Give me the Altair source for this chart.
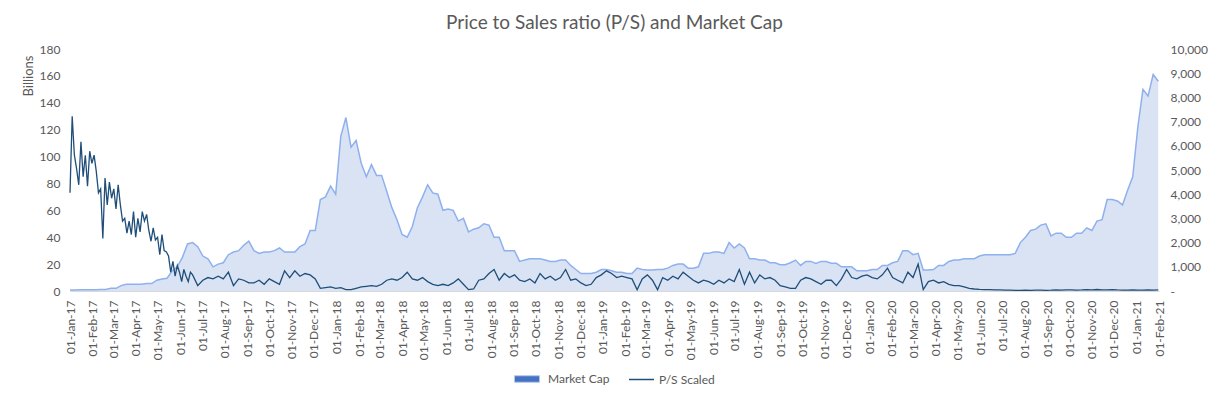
import altair as alt
import pandas as pd

TITLE = "Price to Sales ratio (P/S) and Market Cap"
series_names = ["Market Cap", "P/S Scaled"]
series_colors = ["#4472C4", "#1F4E79"]

# Market cap (billions), weekly from 2017-01-01
mcap_start = "2017-01-01"
mcap_billions = [
    0.8, 0.8, 0.9, 0.9, 1.0, 1.0, 1.1, 1.2, 2, 2,
    4, 5, 5, 5, 5, 5.5, 5.5, 8, 9, 9.5,
    15, 18, 25, 35, 36, 33, 26, 24, 18, 20,
    21, 27, 29, 30, 34, 37, 30, 28, 29, 29,
    30, 32, 29, 29, 29, 33, 35, 45, 45, 68,
    70, 78, 72, 115, 129, 107, 112, 95, 85, 94,
    86, 86, 74, 62, 53, 42, 40, 48, 62, 70,
    79, 73, 72, 60, 61, 60, 52, 54, 44, 46,
    47, 50, 49, 40, 40, 30, 30, 30, 22, 23,
    24, 24, 24, 23, 22, 22, 23, 23, 19, 16,
    13, 13, 13, 14, 16, 16, 15, 14, 14, 13,
    13, 17, 16, 15.6, 15.6, 16, 16, 17, 19, 20,
    20, 17, 17, 18, 28, 28, 29, 29, 28, 36,
    32, 35, 32, 24, 24, 23, 23, 21, 21, 19.5,
    19.5, 21, 23, 19, 22, 22, 20.5, 22, 22, 20.6,
    20.6, 18, 18, 18, 15, 15, 15, 16, 16, 19,
    19, 21, 22, 30, 30, 27, 28, 15.6, 15.6, 16,
    19, 19, 22, 23, 23, 24, 24, 24, 26, 27,
    27, 27, 27, 27, 27, 28, 36, 40, 45, 46,
    49, 50, 41, 43, 43, 40, 40, 43, 43, 47,
    45, 52, 53, 68, 68, 67, 64, 75, 85, 122,
    150, 145, 161, 156,
]

# P/S scaled (read on the left scale): every 3 days from 2017-01-01
ps_fine_start = "2017-01-01"
ps_fine = [
    73, 130, 101, 91, 79, 111, 85, 101, 78, 104,
    95, 101, 89, 73, 76, 39, 84, 64, 81, 69,
    76, 61, 79, 64, 52, 54, 43, 52, 42, 59,
    40, 54, 44, 59, 52, 57, 45, 37, 47, 38,
    40, 27, 42, 30, 29, 26, 14, 22, 11, 19,
    14, 7, 16, 11, 7, 14,
]
# then weekly from 2017-06-18
ps_weekly_start = "2017-06-18"
ps_weekly = [
    12, 4, 8, 10, 9, 11, 9, 14, 4, 9,
    8, 6, 6, 8, 5, 9, 7, 5, 15, 10,
    15, 11, 13, 12, 9, 2, 2.5, 3, 2, 2.5,
    1, 1, 2, 3, 3.5, 4, 3.5, 5, 8, 9,
    8, 10, 14, 9, 8, 10, 7, 5, 4, 5,
    4, 6, 9, 5, 1, 1.5, 8, 9, 13, 16,
    8, 13, 10, 12, 8, 7, 9, 6, 13, 9,
    11, 8, 10, 16, 8, 9, 6, 4, 5, 10,
    12, 15, 13, 10, 11, 10, 9, 1, 9, 12,
    8, 1, 10, 8, 11, 9, 14, 11, 8, 6,
    8, 7, 5, 8, 6, 9, 7, 16, 5, 14,
    6, 12, 9, 10, 8, 4, 3, 2, 2, 8,
    10, 9, 7, 5, 8, 8, 4, 9, 16, 10,
    9, 11, 12, 10, 9, 12, 17, 10, 8, 6,
    14, 10, 20, 1, 7, 8, 6, 7, 5, 4,
    4, 3, 2, 1.5, 1.2, 1, 1, 0.8, 0.8, 0.7,
    0.6, 0.5, 0.5, 0.6, 0.5, 0.7, 0.6, 0.5, 0.6, 0.8,
    0.7, 0.9, 0.8, 0.7, 0.8, 1.0, 0.9, 1.1, 0.8, 0.9,
    1.0, 0.8, 0.7, 0.6, 0.8, 0.7, 0.6, 0.8, 0.7, 0.8,
]

left_ticks = [0, 20, 40, 60, 80, 100, 120, 140, 160, 180]
right_ticks = [0, 1000, 2000, 3000, 4000, 5000, 6000, 7000, 8000, 9000, 10000]
left_max = 180
right_max = 10000
month_ticks = pd.date_range("2017-01-01", "2021-02-01", freq="MS")

mcap_df = pd.DataFrame({
    "date": pd.date_range(mcap_start, periods=len(mcap_billions), freq="7D"),
    "value": mcap_billions,
    "series": series_names[0],
})
ps_dates = list(pd.date_range(ps_fine_start, periods=len(ps_fine), freq="3D")) + \
    list(pd.date_range(ps_weekly_start, periods=len(ps_weekly), freq="7D"))
ps_df = pd.DataFrame({
    "date": ps_dates,
    "value": ps_fine + ps_weekly,
    "series": series_names[1],
})

GRAY = "#595959"
FONT = "Lato"

x_scale = alt.Scale(domain=[alt.DateTime(year=2017, month=1, date=1),
                            alt.DateTime(year=2021, month=2, date=1)])
x_axis = alt.Axis(
    values=[alt.DateTime(year=d.year, month=d.month, date=1) for d in month_ticks],
    format="%d-%b-%y", labelAngle=-90, labelAlign="right", labelBaseline="middle",
    ticks=False, labelPadding=9, domainColor="#D9D9D9", domainWidth=1,
    labelOverlap=False, labelFlush=False, grid=False, title=None,
)
x_enc = alt.X("date:T", scale=x_scale, axis=x_axis)

left_axis = alt.Axis(values=left_ticks, title="Billions", titleAnchor="end",
                     titleY=6, titleColor=GRAY, titleFontSize=13,
                     titleFontWeight="normal", titlePadding=4, domain=False,
                     ticks=False, labelPadding=10, grid=False)
y_left = alt.Y("value:Q", scale=alt.Scale(domain=[0, left_max]), axis=left_axis)

area = alt.Chart(mcap_df).mark_area(fillOpacity=0.2).encode(
    x=x_enc,
    y=y_left,
    fill=alt.Fill("series:N",
                  scale=alt.Scale(domain=[series_names[0]], range=[series_colors[0]]),
                  legend=alt.Legend(orient="none", legendX=444, legendY=317,
                                    title=None, symbolType="M-1,-0.26H1V0.26H-1Z",
                                    symbolSize=625, symbolStrokeColor="#B4C7E7",
                                    symbolStrokeWidth=1, symbolOpacity=1,
                                    labelFontSize=12, labelColor=GRAY, labelFont=FONT,
                                    labelOffset=8)),
)

outline = alt.Chart(mcap_df).mark_line(color="#8FB0EE", strokeWidth=1.5).encode(
    x=x_enc,
    y=y_left,
)

line = alt.Chart(ps_df).mark_line(strokeWidth=1.3).encode(
    x=x_enc,
    y=alt.Y("value:Q", scale=alt.Scale(domain=[0, left_max]),
            axis=alt.Axis(orient="right",
                          values=[v * left_max / right_max for v in right_ticks],
                          labelExpr=f"datum.value == 0 ? '\u2007\u2007\u2007-' : format(datum.value * {right_max} / {left_max}, ',.0f')",
                          title=None, domain=False, ticks=False, labelPadding=11,
                          grid=False)),
    stroke=alt.Stroke("series:N",
                      scale=alt.Scale(domain=[series_names[1]], range=[series_colors[1]]),
                      legend=alt.Legend(orient="none", legendX=558, legendY=317,
                                        title=None, symbolType="stroke",
                                        symbolSize=625, symbolStrokeWidth=1.5,
                                        labelFontSize=12, labelColor=GRAY, labelFont=FONT,
                                        labelOffset=4)),
)

chart = alt.layer(alt.layer(area, outline), line).resolve_scale(y="independent").properties(
    width=1089, height=242,
    autosize=alt.AutoSizeParams(type="none"),
    padding={"left": 62, "top": 41, "right": 57, "bottom": 99},
    title=alt.TitleParams(TITLE, fontSize=19, font=FONT, fontWeight="normal",
                          color=GRAY, anchor="middle", offset=10),
    background="white",
).configure_view(stroke=None).configure_axis(
    labelFont=FONT, titleFont=FONT, labelColor=GRAY, labelFontSize=12,
)

chart.save("out.html", embed_options={"renderer": "svg", "actions": False})
